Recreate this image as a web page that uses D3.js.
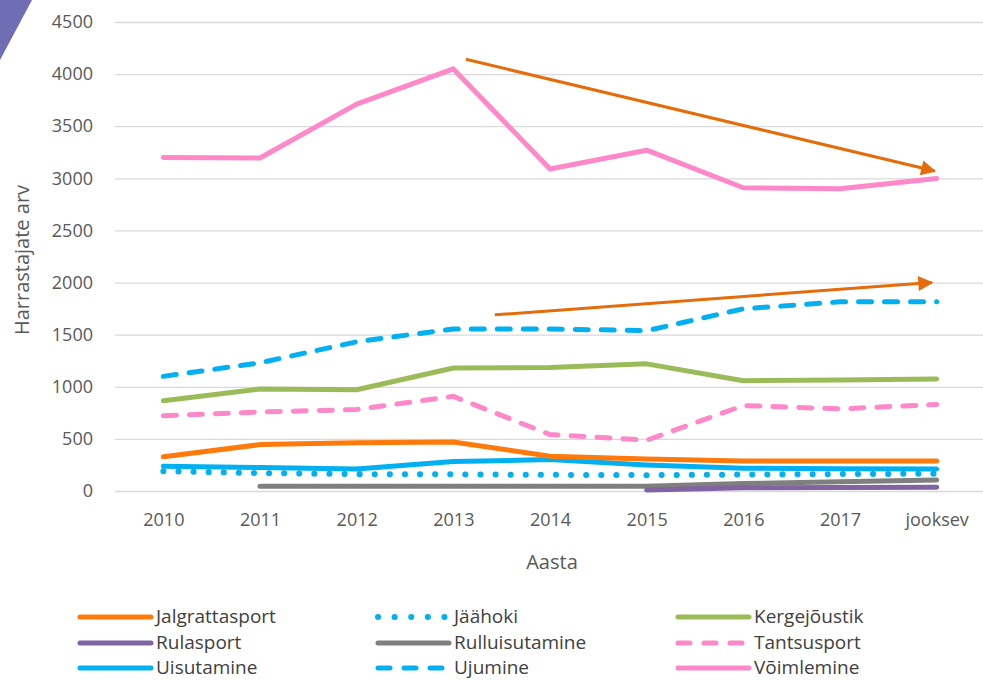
<!DOCTYPE html>
<html>
<head>
<meta charset="utf-8">
<script src="https://cdn.jsdelivr.net/npm/d3@7"></script>
<style>
  body { margin: 0; background: #fff; }
  svg { display: block; font-family: "Open Sans", sans-serif; }
</style>
</head>
<body>
<div id="chart"></div>
<script>
// categories on the x axis
var years = ["2010", "2011", "2012", "2013", "2014", "2015", "2016", "2017", "jooksev"];
var yTicks = [0, 500, 1000, 1500, 2000, 2500, 3000, 3500, 4000, 4500];

// series values (null = no data)
var jalgrattasport = [328, 445, 462, 471, 334, 308, 287, 287, 287];
var jaahoki = [190, 172, 162, 160, 155, 152, 158, 162, 166];
var kergejoustik = [866, 978, 972, 1180, 1184, 1220, 1058, 1065, 1074];
var rulasport = [null, null, null, null, null, 10, 30, 34, 36];
var rulluisutamine = [null, 45, 45, 45, 45, 45, 72, 88, 106];
var tantsusport = [723, 758, 782, 908, 541, 487, 820, 788, 830];
var uisutamine = [238, 225, 212, 282, 302, 250, 218, 214, 212];
var ujumine = [1100, 1230, 1432, 1555, 1555, 1538, 1748, 1815, 1815];
var voimlemine = [3200, 3195, 3712, 4050, 3090, 3270, 2910, 2900, 2998];

// trend arrows: [start index, start value, end index, end value]
var trendDown = [3.13, 4142, 7.98, 3070];
var trendUp = [3.43, 1690, 7.95, 2000];

var series = [
  { name: "Jalgrattasport", values: jalgrattasport, color: "#FF7A0B", dash: null },
  { name: "Jäähoki", values: jaahoki, color: "#00B0F0", dash: "dot" },
  { name: "Kergejõustik", values: kergejoustik, color: "#9BBB59", dash: null },
  { name: "Rulasport", values: rulasport, color: "#8064A2", dash: null },
  { name: "Rulluisutamine", values: rulluisutamine, color: "#7F7F7F", dash: null },
  { name: "Tantsusport", values: tantsusport, color: "#FF88C8", dash: "dash" },
  { name: "Uisutamine", values: uisutamine, color: "#00B0F0", dash: null },
  { name: "Ujumine", values: ujumine, color: "#00B0F0", dash: "dash" },
  { name: "Võimlemine", values: voimlemine, color: "#FF88C8", dash: null }
];
var dashes = { dot: "0.1,15", dash: "13,13" };
var legendDashes = { dot: "0.1,16.5", dash: "12,14" };

var width = 983, height = 681;
var svg = d3.select("#chart").append("svg")
  .attr("width", width).attr("height", height);

// purple corner decoration
svg.append("path")
  .attr("d", "M0,0 L32,0 L0,60 Z")
  .attr("fill", "#6F6DB3");

var x = d3.scalePoint().domain(years).range([115, 985]).padding(0.5);
var y = d3.scaleLinear().domain([0, 4500]).range([491, 22]);
var xi = function (i) { return x(years[0]) + i * x.step(); };

// gridlines + y labels
svg.append("g")
  .attr("transform", "translate(115,0)")
  .call(d3.axisLeft(y).tickValues(yTicks).tickFormat(d3.format("d")).tickSize(-868).tickPadding(22))
  .call(g => g.select(".domain").remove())
  .call(g => g.selectAll(".tick line").attr("stroke", "#D9D9D9").attr("stroke-width", 1.3))
  .call(g => g.selectAll(".tick text")
    .attr("fill", "#595959").style("font-size", "18px").style("font-family", "'Open Sans', sans-serif"));

// x labels
svg.append("g")
  .attr("transform", "translate(0,491)")
  .call(d3.axisBottom(x).tickSize(0).tickPadding(22))
  .call(g => g.select(".domain").remove())
  .call(g => g.selectAll(".tick text")
    .attr("fill", "#595959").style("font-size", "18px").style("font-family", "'Open Sans', sans-serif"));

// axis titles
svg.append("text")
  .attr("transform", "translate(29,260) rotate(-90)")
  .attr("text-anchor", "middle")
  .attr("fill", "#595959")
  .style("font-size", "20px")
  .text("Harrastajate arv");

svg.append("text")
  .attr("x", 552).attr("y", 569)
  .attr("text-anchor", "middle")
  .attr("fill", "#595959")
  .style("font-size", "20px")
  .text("Aasta");

var line = d3.line()
  .defined(d => d != null)
  .x((d, i) => x(years[i]))
  .y(d => y(d));

// draw order so overlapping lines stack like the reference
var drawOrder = [4, 3, 1, 6, 0, 5, 2, 7, 8];
drawOrder.forEach(function (k) {
  var s = series[k];
  svg.append("path")
    .datum(s.values)
    .attr("d", line)
    .attr("fill", "none")
    .attr("stroke", s.color)
    .attr("stroke-width", s.dash === "dot" ? 6 : 5)
    .attr("stroke-linecap", "round")
    .attr("stroke-linejoin", "round")
    .attr("stroke-dasharray", s.dash ? dashes[s.dash] : null);
});

// trend arrows
svg.append("defs").append("marker")
  .attr("id", "arrow")
  .attr("viewBox", "0 0 10 10")
  .attr("refX", 9).attr("refY", 5)
  .attr("markerWidth", 6).attr("markerHeight", 5)
  .attr("markerUnits", "strokeWidth")
  .attr("orient", "auto")
  .append("path")
  .attr("d", "M0,0 L10,5 L0,10 Z")
  .attr("fill", "#E46C0A");

[trendDown, trendUp].forEach(function (a) {
  svg.append("line")
    .attr("x1", xi(a[0])).attr("y1", y(a[1]))
    .attr("x2", xi(a[2])).attr("y2", y(a[3]))
    .attr("stroke", "#E46C0A")
    .attr("stroke-width", 3)
    .attr("marker-end", "url(#arrow)");
});

// legend
var legend = svg.append("g");
var colX = [80, 378, 678];
var rowY = [617, 643, 668];
series.forEach(function (s, i) {
  var cx = colX[i % 3], cy = rowY[Math.floor(i / 3)];
  var g = legend.append("g").attr("transform", "translate(" + cx + "," + cy + ")");
  g.append("line")
    .attr("x1", 0).attr("x2", 71)
    .attr("stroke", s.color)
    .attr("stroke-width", s.dash === "dot" ? 6 : 5)
    .attr("stroke-linecap", "round")
    .attr("stroke-dasharray", s.dash ? legendDashes[s.dash] : null);
  g.append("text")
    .attr("x", 76).attr("y", 6)
    .attr("fill", "#404040")
    .style("font-size", "19px")
    .text(s.name);
});
</script>
</body>
</html>
